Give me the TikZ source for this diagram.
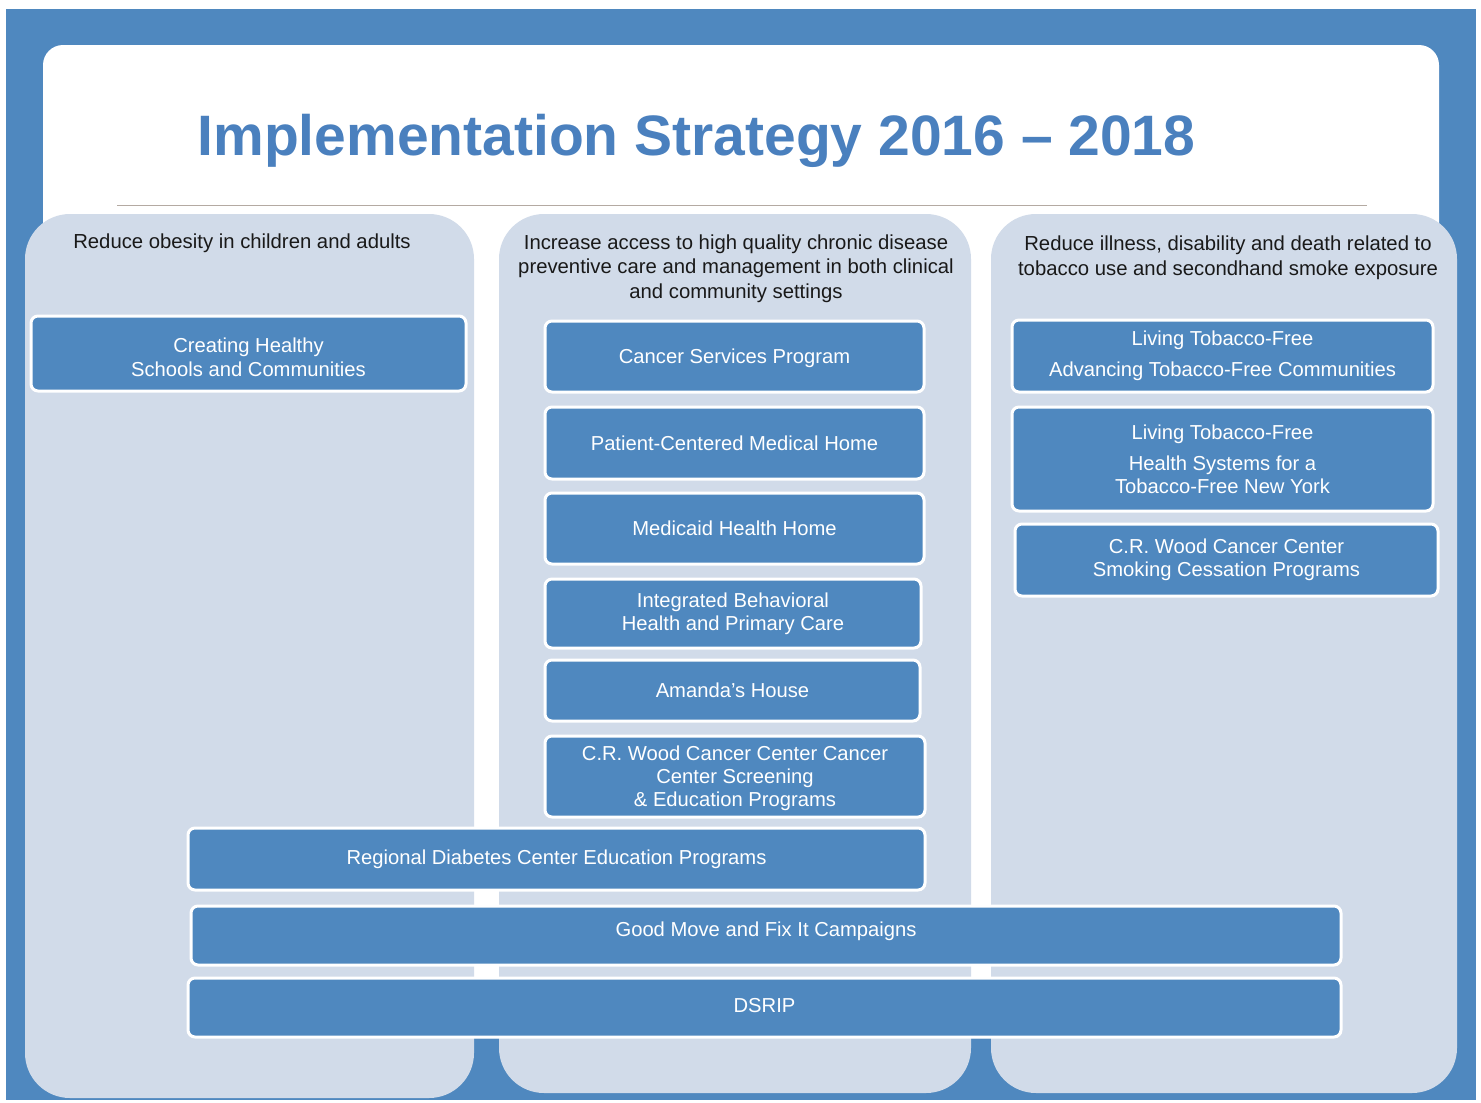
\documentclass[tikz,border=0pt]{standalone}
\usepackage{fontspec}
\setmainfont{Liberation Sans}
% set a (multi-line) label lower or higher inside its box without changing the box
\newcommand\shifted[2]{\raisebox{#1}[\height][\depth]{\begin{tabular}{@{}c@{}}#2\end{tabular}}}
\begin{document}
\definecolor{frameblue}{RGB}{79,136,191}
\definecolor{titleblue}{RGB}{74,128,190}
\definecolor{colfill}{RGB}{209,219,233}
\definecolor{rulecol}{RGB}{180,170,162}
\definecolor{headtext}{RGB}{25,25,25}
\begin{tikzpicture}[x=1pt,y=-1pt,
  column/.style={fill=colfill, rounded corners=45pt},
  head/.style={align=center, inner sep=0pt, text=headtext,
    font=\fontsize{20.3}{24.7}\selectfont},
  box/.style={draw=white, line width=3pt, fill=frameblue, rounded corners=7pt,
    align=center, text=white, inner sep=0pt,
    font=\fontsize{20.2}{23}\selectfont},
]
% page and frame
\useasboundingbox (0,0) rectangle (1481,1103);
\fill[white] (0,0) rectangle (1481,1103);
\fill[frameblue] (6,9) rectangle (1476,1100);
% white title card
\fill[white, rounded corners=20pt] (43,45) rectangle (1439,1038);
\node[inner sep=0pt, text=titleblue, font=\fontsize{57}{60}\bfseries\selectfont]
  (title) at (696.5,141) {Implementation Strategy 2016 -- 2018};
\draw[rulecol, line width=1.2pt] (117,205.5) -- (1367,205.5);

% three goal columns
\fill[column] (25,214) rectangle (474,1098);
\fill[column] (499,214) rectangle (971,1093);
\fill[column] (991,214) rectangle (1457,1093);

% column headings
\node[head] (h1) at (242,243) {Reduce obesity  in children and adults};
\node[head] (h2) at (736,268.5) {Increase access to high quality chronic disease\\
  preventive  care and management  in both clinical\\ and community settings};
\node[head] (h3) at (1228,258) {Reduce illness, disability and death related to\\
  tobacco use and secondhand smoke exposure};

% left column programs
\node[box, minimum width=435pt, minimum height=75pt] (chs) at (248.5,353.5)
  {\shifted{-6.5pt}{Creating Healthy\\[1pt] Schools  and Communities}};

% middle column programs
\node[box, minimum width=379pt, minimum height=71pt] (csp) at (734.5,356.5)
  {\shifted{-2pt}{Cancer Services  Program}};
\node[box, minimum width=379pt, minimum height=72pt] (pcmh) at (734.5,443)
  {Patient-Centered  Medical Home};
\node[box, minimum width=379pt, minimum height=71pt] (mhh) at (734.5,528.5)
  {Medicaid Health Home};
\node[box, minimum width=376pt, minimum height=69pt] (ibh) at (733,613.5)
  {Integrated  Behavioral\\ Health  and Primary Care};
\node[box, minimum width=375pt, minimum height=61pt] (ah) at (732.5,690.5)
  {Amanda's House};
\node[box, minimum width=380pt, minimum height=81pt] (crw) at (735,776.5)
  {\shifted{-2.5pt}{C.R. Wood Cancer Center  Cancer\\ Center Screening\\ \& Education Programs}};

% right column programs
\node[box, minimum width=421pt, minimum height=72pt] (ltf1) at (1222.5,356)
  {Living  Tobacco-Free\\[8pt] Advancing  Tobacco-Free  Communities};
\node[box, minimum width=421pt, minimum height=104pt] (ltf2) at (1222.5,459)
  {Living  Tobacco-Free\\[8pt] Health  Systems for  a\\ Tobacco-Free  New  York};
\node[box, minimum width=423pt, minimum height=72pt] (crws) at (1226.5,560)
  {C.R.  Wood  Cancer  Center\\ Smoking  Cessation  Programs};

% programs spanning several columns
\node[box, minimum width=737pt, minimum height=62pt] (rdc) at (556.5,859)
  {Regional  Diabetes  Center  Education  Programs};
\node[box, minimum width=1150pt, minimum height=59pt] (gm) at (766,935.5)
  {\shifted{3.5pt}{Good  Move  and  Fix It  Campaigns}};
\node[box, minimum width=1153pt, minimum height=59pt] (dsrip) at (764.5,1007.5)
  {\shifted{0pt}{DSRIP}};
\end{tikzpicture}
\end{document}
